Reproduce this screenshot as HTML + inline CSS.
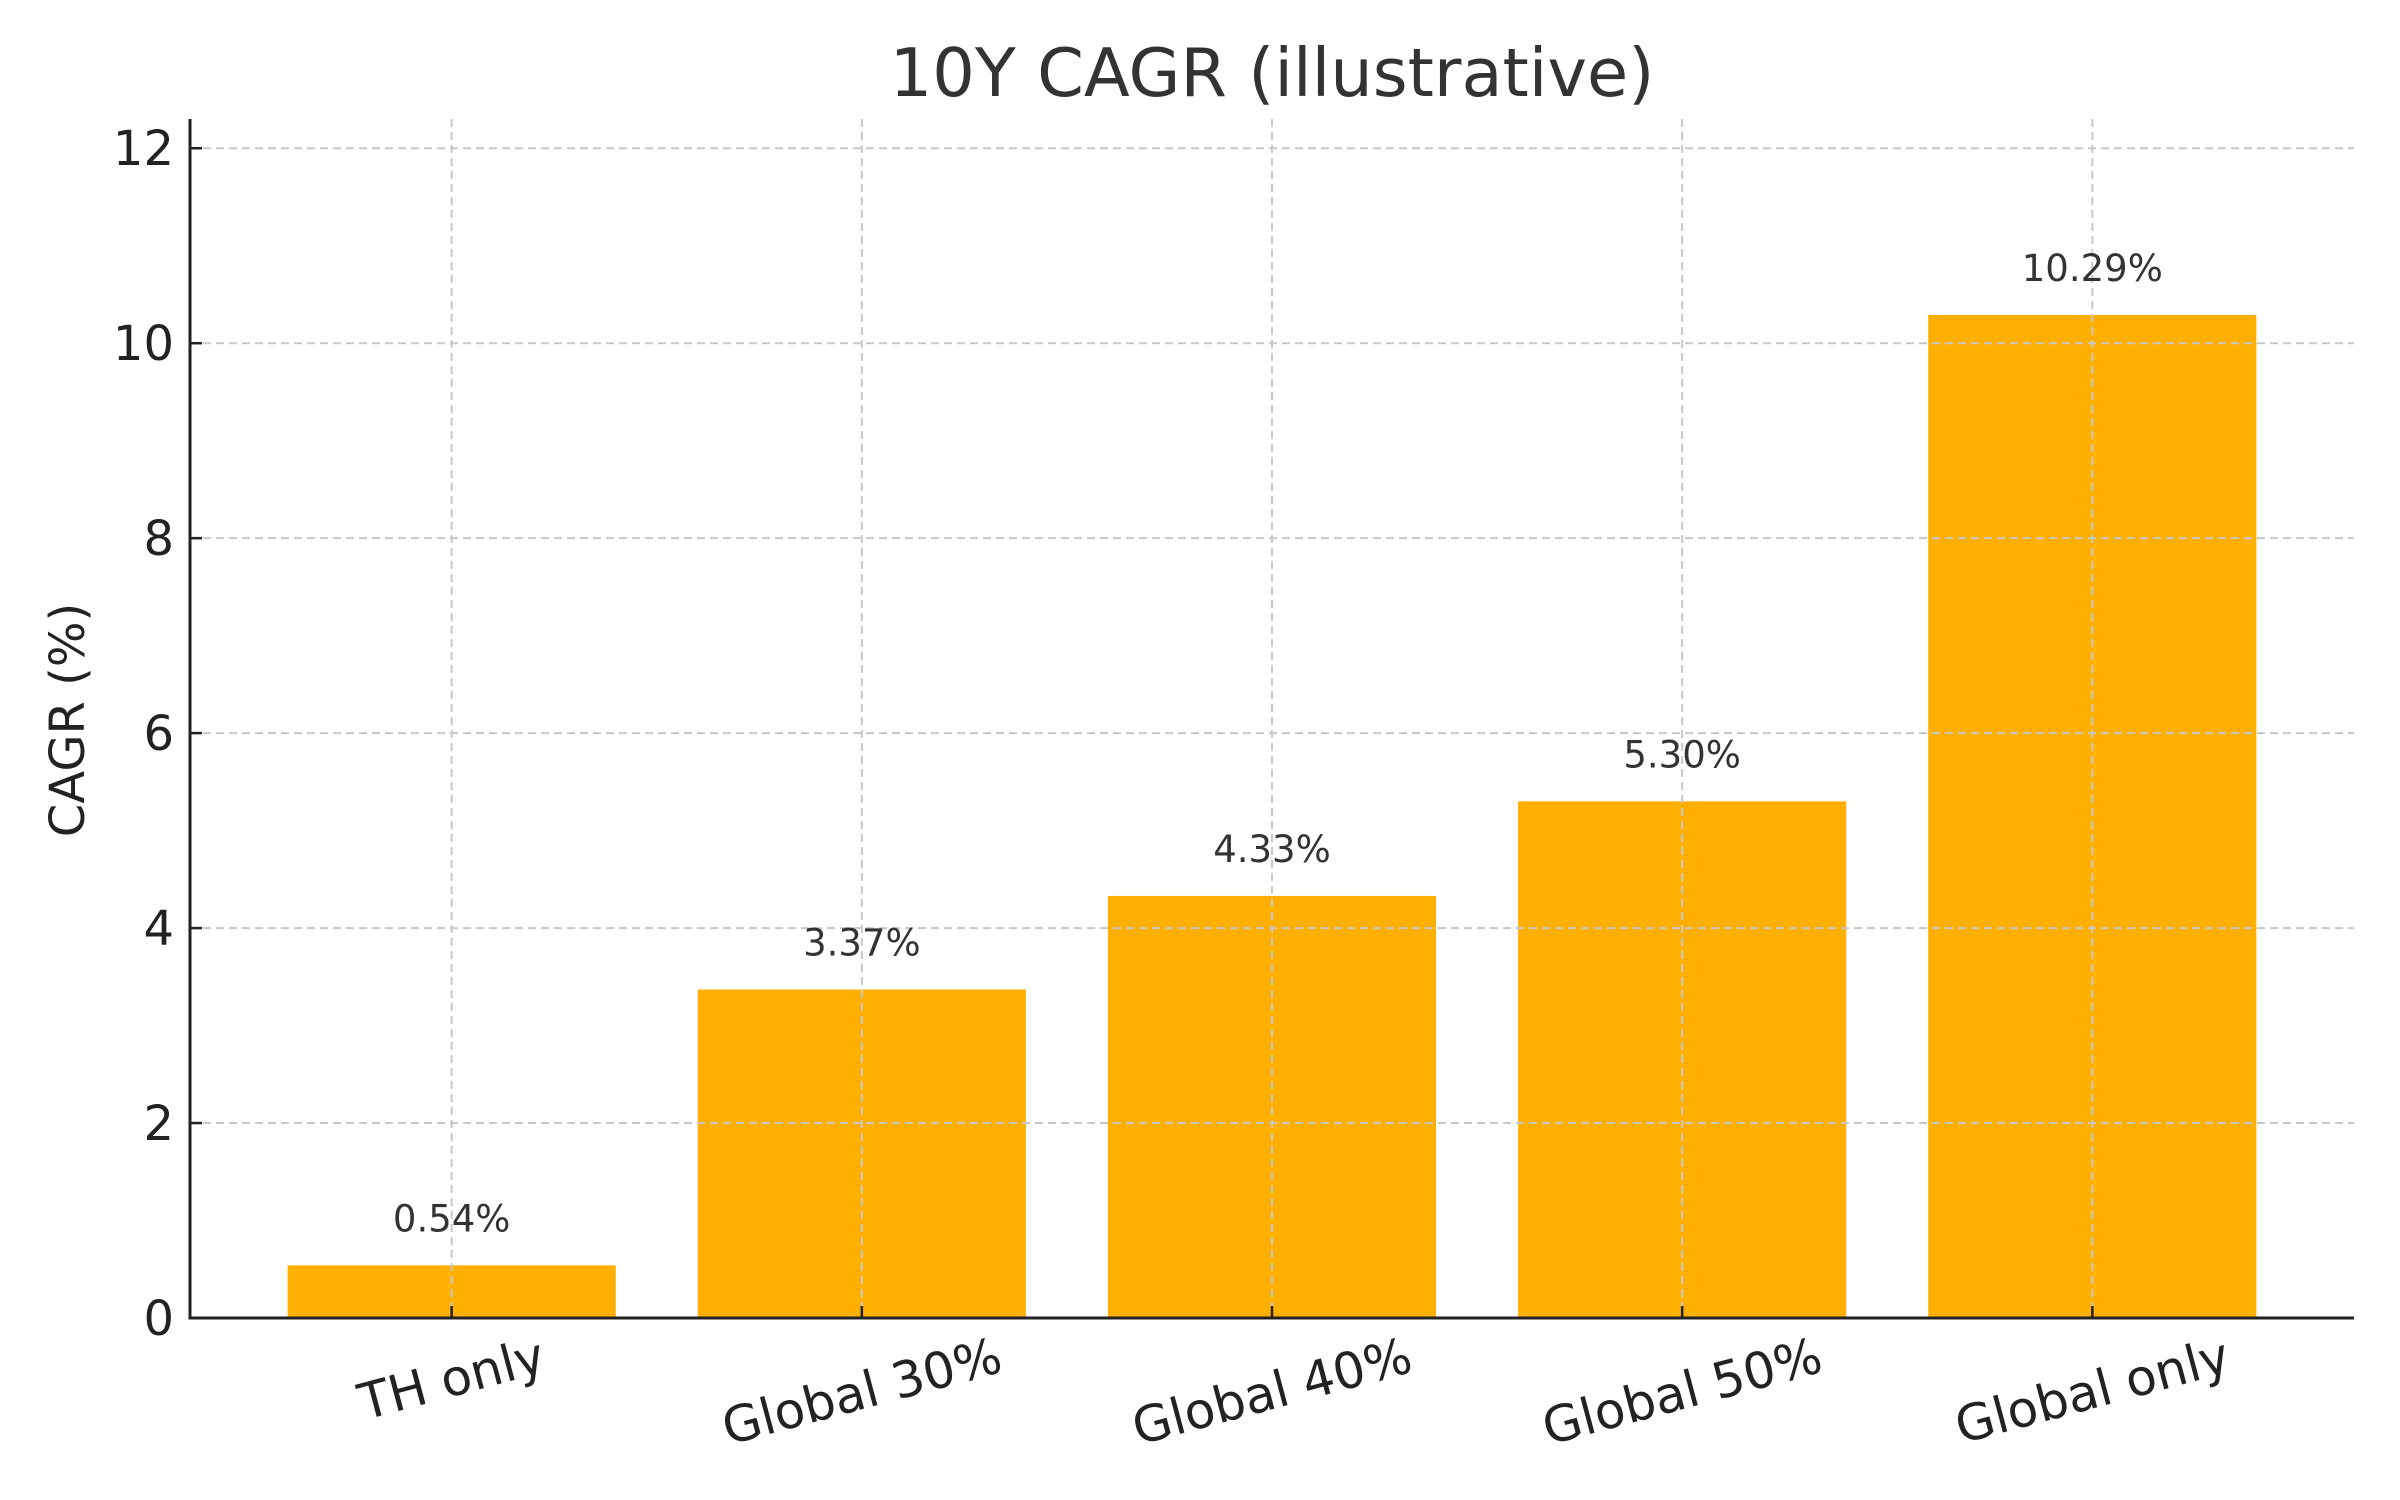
<!DOCTYPE html>
<html><head><meta charset="utf-8"><style>html,body{margin:0;padding:0;background:#fff}svg{display:block}text{font-family:"DejaVu Sans","Liberation Sans",sans-serif}</style></head>
<body>
<svg id="chart" width="2400" height="1500" viewBox="0 0 2400 1500" xmlns="http://www.w3.org/2000/svg">
<rect width="2400" height="1500" fill="#fff"/>
<g id="bars"></g>
<g id="grid"></g>
<g id="axes"></g>
<g id="labels"></g>
<text x="1272" y="96" text-anchor="middle" font-size="67" fill="#333">10Y CAGR (illustrative)</text>
<text transform="translate(84,720) rotate(-90)" text-anchor="middle" font-size="48" fill="#222">CAGR (%)</text>
</svg>
<script>
const categories = ["TH only","Global 30%","Global 40%","Global 50%","Global only"];
const values = [0.54, 3.37, 4.33, 5.30, 10.29];
const valueLabels = ["0.54%","3.37%","4.33%","5.30%","10.29%"];
const yTicks = [0,2,4,6,8,10,12];

const NS="http://www.w3.org/2000/svg";
const L=190,R=2354,T=119,B=1318;
const xMin=-0.638,xMax=4.638,yMin=0,yMax=12.3;
function xs(i){return L+(i-xMin)/(xMax-xMin)*(R-L);}
function ys(v){return B-(v-yMin)/(yMax-yMin)*(B-T);}
function mk(tag,attrs,parent){const e=document.createElementNS(NS,tag);for(const k in attrs)e.setAttribute(k,attrs[k]);parent.appendChild(e);return e;}
const bw=(xs(0.8)-xs(0));
const gBars=document.getElementById('bars'),gGrid=document.getElementById('grid'),gAx=document.getElementById('axes'),gLab=document.getElementById('labels');
values.forEach((v,i)=>{
  const r=mk('rect',{x:xs(i)-bw/2,y:ys(v),width:bw,height:ys(0)-ys(v),fill:'#FFAF00'},gBars);
  
  
  const t=mk('text',{x:xs(i),y:ys(v)-34,'text-anchor':'middle','font-size':'37',fill:'#333'},gLab);
  t.textContent=valueLabels[i];
  
  
  const gl=mk('line',{x1:xs(i),x2:xs(i),y1:T,y2:B,stroke:'#c8c8c8','stroke-width':2,'stroke-dasharray':'8,5'},gGrid);
  
  
  const tk=mk('line',{x1:xs(i),x2:xs(i),y1:B,y2:B-12,stroke:'#222','stroke-width':2.5},gAx);
  
  
  const xl=mk('text',{'text-anchor':'middle','dominant-baseline':'central','font-size':'50',fill:'#222'},gAx);
  xl.textContent=categories[i];
  
  
  const w=xl.getComputedTextLength(),h=50*1.1;
  const a=15*Math.PI/180;
  const bh=w*Math.sin(a)+h*Math.cos(a);
  const cy=1328+bh/2;
  xl.setAttribute('transform','translate('+xs(i)+','+cy+') rotate(-15)');
});
yTicks.forEach(v=>{
  const gl=mk('line',{x1:L,x2:R,y1:ys(v),y2:ys(v),stroke:'#c8c8c8','stroke-width':2,'stroke-dasharray':'8,5'},gGrid);
  
  
  const tk=mk('line',{x1:L,x2:L+12,y1:ys(v),y2:ys(v),stroke:'#222','stroke-width':2.5},gAx);
  
  
  const t=mk('text',{x:L-16,y:ys(v)+17,'text-anchor':'end','font-size':'48',fill:'#222'},gAx);
  t.textContent=String(v);
  
  
});
const ls=mk('line',{x1:L,x2:L,y1:T,y2:B+1.5,stroke:'#222','stroke-width':3},gAx);


const bs=mk('line',{x1:L-1.5,x2:R,y1:B,y2:B,stroke:'#222','stroke-width':3},gAx);


</script>
</body></html>
